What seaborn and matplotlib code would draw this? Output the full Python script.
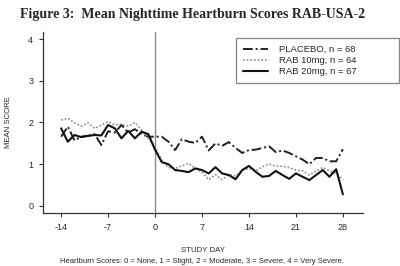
import numpy as np
import pandas as pd
import matplotlib
matplotlib.use("Agg")
import matplotlib.pyplot as plt
import seaborn as sns

# study days -14 .. 28
days = list(range(-14, 29))

placebo = [1.66, 1.90, 1.57, 1.66, 1.68, 1.72, 1.46, 1.79, 1.76, 1.94, 1.76, 1.84, 1.72, 1.66,
           1.66, 1.66, 1.54, 1.34, 1.60, 1.54, 1.51, 1.66, 1.33, 1.50, 1.44, 1.53, 1.39, 1.27,
           1.34, 1.35, 1.39, 1.43, 1.29, 1.33, 1.27, 1.19, 1.11, 1.00, 1.15, 1.15, 1.07, 1.07, 1.36]
rab10 = [2.06, 2.10, 1.99, 1.91, 1.99, 1.86, 1.94, 2.02, 1.94, 1.96, 1.91, 2.00, 1.82, 1.63,
         1.40, 1.10, 0.92, 0.90, 0.96, 1.02, 0.90, 0.81, 0.63, 0.75, 0.63, 0.75, 0.72, 0.86,
         0.90, 0.84, 0.94, 1.00, 0.96, 0.95, 0.92, 0.86, 0.84, 0.74, 0.84, 0.92, 0.84, 0.78, 0.62]
rab20 = [1.86, 1.54, 1.70, 1.65, 1.68, 1.70, 1.69, 1.94, 1.86, 1.62, 1.80, 1.62, 1.78, 1.72,
         1.35, 1.05, 1.00, 0.86, 0.84, 0.81, 0.90, 0.86, 0.78, 0.93, 0.78, 0.74, 0.64, 0.86,
         0.96, 0.82, 0.70, 0.72, 0.84, 0.74, 0.65, 0.78, 0.70, 0.62, 0.74, 0.86, 0.70, 0.88, 0.28]

labels = ["PLACEBO, n = 68", "RAB 10mg, n = 64", "RAB 20mg, n = 67"]
xticks = [-14, -7, 0, 7, 14, 21, 28]
yticks = [0, 1, 2, 3, 4]

sns.set_style("ticks")
plt.rcParams['font.family'] = ['Liberation Sans', 'DejaVu Sans']
plt.rcParams['axes.unicode_minus'] = False

fig = plt.figure(figsize=(4, 2.66), dpi=100)
ax = fig.add_axes([0.1075, 0.199, 0.80, 0.681])

ax.axvline(0, color='#8a8a8a', lw=1.0, zorder=1)

sns.lineplot(x=days, y=placebo, ax=ax, color='#222222', lw=1.4, label=labels[0],
             linestyle=(0, (5, 1.5, 1, 1.5)))
sns.lineplot(x=days, y=rab10, ax=ax, color='#8c8c8c', lw=1.2, label=labels[1],
             linestyle=(0, (1, 1.2)))
sns.lineplot(x=days, y=rab20, ax=ax, color='#111111', lw=1.5, label=labels[2])

ax.set_xlim(-16.7, 31)
ax.set_ylim(-0.17, 4.17)
ax.set_xticks(xticks)
ax.set_yticks(yticks)
ax.tick_params(axis='both', labelsize=6.5, length=3, width=0.8, pad=4, color='#333333')
sns.despine(ax=ax)
for s in ['left', 'bottom']:
    ax.spines[s].set_linewidth(0.9)
    ax.spines[s].set_color('#333333')

ax.set_xlabel("STUDY DAY", fontsize=5.6, labelpad=11)
ax.set_ylabel("MEAN SCORE", fontsize=5.6, labelpad=12)

leg = ax.legend(loc='upper left', bbox_to_anchor=(0.59, 0.692, 0.4075, 0.165),
                bbox_transform=fig.transFigure, mode='expand', borderaxespad=0,
                fontsize=6.8, frameon=True, fancybox=False, handlelength=2.6,
                handletextpad=1.2, labelspacing=0.22, borderpad=0.75)
leg.get_frame().set_edgecolor('#666666')
leg.get_frame().set_linewidth(0.9)

fig.text(0.481, 0.947, "Figure 3:  Mean Nighttime Heartburn Scores RAB-USA-2",
         ha='center', va='center', fontsize=10, fontweight='bold', family='Liberation Serif')
fig.text(0.505, 0.004, "Heartburn Scores: 0 = None, 1 = Slight, 2 = Moderate, 3 = Severe, 4 = Very Severe.",
         ha='center', va='bottom', fontsize=5.5)

fig.savefig("out.png", dpi=100)
